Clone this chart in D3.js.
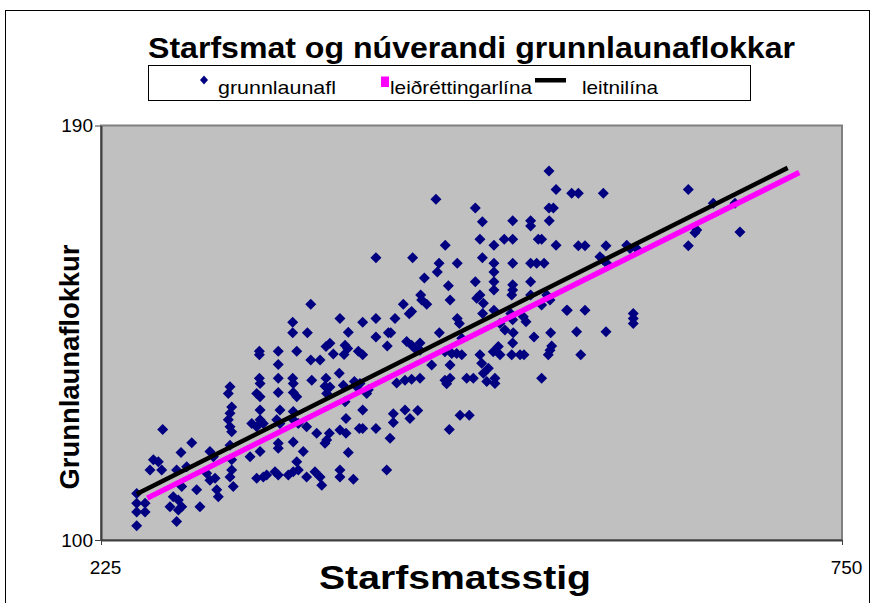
<!DOCTYPE html>
<html lang="is">
<head>
    <meta charset="UTF-8">
    <title>Starfsmat og núverandi grunnlaunaflokkar</title>
    <style>
        body { margin: 0; background: #fff; }
        svg { display: block; font-family: "Liberation Sans", Arial, sans-serif; }
    </style>
</head>
<body>
    <svg width="875" height="603"></svg>
    <script src="https://d3js.org/d3.v7.min.js"></script>
    <script>
        // starfsmatsstig (x) and grunnlaunaflokkur (y) for each employee
        var stig = [
            316.4, 315.2, 337.7, 335.3, 337.7, 350.6, 361.2, 361.2, 363.7, 374.3,
            383.7, 384.9, 317.6, 316.4, 315.2, 316.4, 317.6, 337.7, 337.7, 331.8,
            335.3, 340.0, 351.8, 349.5, 351.8, 361.2, 361.2, 364.8, 370.7, 377.8,
            384.9, 268.7, 289.3, 281.7, 302.2, 304.6, 316.4, 317.6, 317.6, 316.4,
            318.7, 330.6, 337.7, 350.6, 350.6, 361.2, 368.3, 363.7, 262.1, 265.6,
            259.7, 268.0, 278.6, 285.7, 299.9, 305.8, 302.2, 335.3, 340.0, 342.4,
            348.3, 350.6, 357.7, 361.2, 364.8, 376.6, 380.2, 381.4, 370.7, 282.2,
            292.8, 307.0, 308.1, 276.2, 273.9, 279.8, 282.2, 279.8, 295.1, 278.6,
            250.3, 250.3, 250.3, 256.2, 256.2, 250.3,
            373.6, 360.8, 360.8, 371.2, 337.2, 337.2, 350.6, 363.7, 350.6, 373.6,
            380.2, 387.2, 384.4, 389.6, 394.3, 400.2, 397.9, 399.8, 397.2, 407.3,
            410.4, 410.4, 419.8, 419.8, 428.6, 430.3, 433.3, 427.8, 439.2, 445.1,
            443.4, 441.6, 445.1, 448.7, 337.2, 350.6, 360.8, 384.4, 393.8, 404.5,
            406.2, 413.3, 414.4, 445.1, 434.5, 440.4, 398.6, 410.4, 397.9, 432.1,
            440.4, 443.9, 432.1, 387.2, 396.7, 408.5, 451.0, 459.3, 472.3, 468.7,
            472.3, 469.9, 484.1, 488.8, 494.7, 499.4, 495.9, 498.3, 504.1, 504.1,
            537.2, 449.4, 479.4, 485.9, 471.8, 386.8, 383.7, 394.3, 398.6, 408.0,
            410.4, 419.8, 429.8, 400.2, 394.3, 394.3, 403.8, 427.4, 464.7, 480.6,
            507.7, 511.2, 517.1, 531.8, 543.6, 544.3, 543.1, 541.9, 451.0, 451.0,
            468.7, 473.5, 477.0, 480.6, 493.5, 502.9, 506.5, 507.7, 516.7, 516.0,
            521.9, 524.7, 542.4, 547.4, 462.3, 490.2, 542.4, 545.5, 495.2, 516.7,
            529.4, 529.4, 542.6, 493.5, 503.4, 510.7, 516.7, 534.8, 537.2, 547.4,
            468.9, 419.8, 445.8, 495.2, 464.5, 463.3, 477.4, 503.4, 503.4, 503.4,
            503.4, 516.7, 529.4, 533.7, 538.9, 454.1, 471.1, 490.2, 516.7, 516.7,
            516.0, 529.4, 451.5, 452.2, 455.8, 472.3, 491.2, 493.5, 495.9, 477.4,
            478.9, 495.4, 503.4, 515.3, 516.7, 524.2, 526.1, 529.4, 540.8, 543.1,
            554.9, 537.2, 558.5, 563.2, 580.9, 641.1, 658.8, 674.2, 647.1, 645.8,
            677.7, 641.1, 563.2, 567.9, 582.8, 597.5, 599.8, 604.5, 578.5, 580.9,
            583.3, 555.4, 567.9, 562.0, 582.8, 602.1, 602.1, 602.1, 564.9
        ];
        var flokkur = [
            133.3, 131.8, 134.0, 131.8, 131.1, 132.0, 134.0, 132.0, 131.1, 134.7,
            133.4, 131.8, 128.9, 127.5, 126.1, 124.6, 123.5, 128.2, 126.1, 125.3,
            124.6, 125.3, 128.2, 126.1, 125.3, 127.9, 126.1, 125.3, 124.6, 123.2,
            121.7, 124.0, 121.1, 119.0, 119.2, 118.1, 120.6, 117.4, 115.2, 113.7,
            111.6, 118.1, 119.2, 121.0, 119.9, 121.3, 119.2, 117.0, 117.4, 117.0,
            115.2, 115.2, 115.2, 115.9, 114.5, 113.4, 113.0, 113.4, 113.7, 114.1,
            114.8, 114.1, 114.1, 114.8, 115.2, 114.8, 113.7, 111.9, 113.7, 111.6,
            110.9, 110.9, 109.4, 109.4, 107.2, 108.7, 107.2, 106.5, 107.2, 104.0,
            110.1, 108.0, 106.1, 108.0, 106.1, 103.1,
            151.2, 147.3, 145.0, 145.0, 141.0, 140.2, 141.0, 141.0, 138.1, 139.1,
            139.1, 142.7, 142.0, 140.4, 148.1, 145.1, 142.3, 141.6, 140.3, 141.0,
            140.2, 147.3, 148.1, 144.1, 145.0, 145.0, 148.1, 142.1, 151.2, 149.6,
            149.1, 143.1, 142.3, 141.2, 135.1, 135.1, 135.1, 135.1, 136.2, 134.4,
            133.3, 131.8, 132.6, 134.9, 134.1, 134.7, 126.4, 128.2, 130.0, 127.4,
            128.2, 126.4, 125.5, 133.2, 133.6, 134.0, 135.1, 138.0, 138.0, 134.7,
            135.1, 133.9, 135.1, 135.1, 138.4, 137.3, 136.2, 134.4, 135.1, 134.0,
            135.1, 128.1, 127.1, 127.1, 124.0, 123.2, 121.0, 123.9, 123.2, 124.2,
            124.2, 124.2, 122.1, 119.0, 115.2, 113.7, 113.2, 115.2, 145.0, 143.8,
            147.0, 145.6, 145.0, 144.1, 145.0, 142.1, 141.2, 140.2, 142.8, 141.2,
            140.9, 140.5, 140.5, 140.2, 140.2, 140.9, 142.0, 140.2, 142.8, 140.2,
            140.2, 140.2, 180.1, 176.1, 174.0, 172.1, 172.1, 172.1, 169.1, 169.3,
            169.3, 168.2, 169.3, 165.3, 164.0, 165.3, 165.3, 165.3, 165.3, 164.0,
            164.0, 161.3, 161.3, 161.3, 160.1, 158.2, 160.1, 160.1, 158.2, 156.1,
            154.3, 160.1, 160.1, 160.1, 160.1, 156.9, 155.2, 156.1, 155.4, 154.3,
            153.2, 156.1, 153.2, 152.1, 151.2, 152.1, 152.5, 153.2, 151.4, 148.1,
            147.0, 149.2, 149.9, 149.2, 147.8, 148.5, 147.4, 153.2, 153.2, 152.1,
            149.9, 151.0, 175.3, 175.3, 175.3, 176.1, 173.1, 173.1, 167.3, 166.7,
            166.9, 163.9, 163.9, 163.9, 163.9, 164.0, 163.3, 163.3, 161.5, 160.8,
            160.1, 149.9, 149.9, 145.2, 145.2, 149.2, 148.1, 147.0, 140.2
        ];

        // trend line (leitnilína) and corrected line (leiðréttingarlína) end points
        var leitniX = [250.3, 711.5];
        var leitniY = [110.0, 180.8];
        var leidrX = [257.8, 719.7];
        var leidrY = [109.1, 179.8];

        var xTicks = [225, 750];
        var yTicks = [100, 190];
        var legendNames = ["grunnlaunafl", "leiðréttingarlína", "leitnilína"];

        var svg = d3.select("svg");

        var plotLeft = 101, plotRight = 842, plotTop = 125.5, plotBottom = 540;

        var x = d3.scaleLinear()
            .domain([225, 750])
            .range([plotLeft, plotRight]);

        var y = d3.scaleLinear()
            .domain([100, 190])
            .range([plotBottom, plotTop]);

        // outer chart frame
        svg.append("rect")
            .attr("x", 5.5)
            .attr("y", 10.5)
            .attr("width", 864)
            .attr("height", 620)
            .attr("fill", "#fff")
            .attr("stroke", "#000")
            .attr("stroke-width", 1);

        // title
        svg.append("text")
            .attr("x", 148)
            .attr("y", 58)
            .attr("font-size", 30)
            .attr("font-weight", "bold")
            .attr("textLength", 647)
            .attr("lengthAdjust", "spacingAndGlyphs")
            .text("Starfsmat og núverandi grunnlaunaflokkar");

        // legend
        var legend = svg.append("g").attr("class", "legend");
        legend.append("rect")
            .attr("x", 148.5)
            .attr("y", 65.5)
            .attr("width", 602)
            .attr("height", 35)
            .attr("fill", "#fff")
            .attr("stroke", "#000");

        legend.append("path")
            .attr("d", "M0,-4.5L4,0L0,4.5L-4,0Z")
            .attr("transform", "translate(204,80)")
            .attr("fill", "#000080");
        legend.append("rect")
            .attr("x", 381)
            .attr("y", 76.5)
            .attr("width", 8)
            .attr("height", 10.5)
            .attr("fill", "#ff00ff");
        legend.append("rect")
            .attr("x", 535)
            .attr("y", 78)
            .attr("width", 31)
            .attr("height", 4.5)
            .attr("fill", "#000");

        var legendPos = [[218, 118], [390, 142], [582, 76]];
        legend.selectAll("text.item")
            .data(legendNames)
            .enter().append("text")
            .attr("class", "item")
            .attr("x", function(d, i) { return legendPos[i][0]; })
            .attr("y", 94)
            .attr("font-size", 19)
            .attr("textLength", function(d, i) { return legendPos[i][1]; })
            .attr("lengthAdjust", "spacingAndGlyphs")
            .text(function(d) { return d; });

        // plot area
        svg.append("rect")
            .attr("x", plotLeft)
            .attr("y", plotTop)
            .attr("width", plotRight - plotLeft)
            .attr("height", plotBottom - plotTop)
            .attr("fill", "#c0c0c0")
            .attr("stroke", "#808080")
            .attr("stroke-width", 2);

        // axes
        var xAxis = svg.append("g")
            .attr("transform", "translate(0," + plotBottom + ")")
            .call(d3.axisBottom(x).tickValues(xTicks).tickSize(5).tickSizeOuter(0));
        xAxis.select(".domain").attr("stroke", "#404040").attr("stroke-width", 2);
        xAxis.selectAll(".tick line").attr("stroke", "#404040");
        xAxis.selectAll(".tick text")
            .attr("font-size", 19)
            .attr("font-family", "Liberation Sans, Arial, sans-serif")
            .attr("fill", "#000")
            .attr("dx", 4)
            .attr("y", 21)
            .attr("dy", "0.71em");

        var yAxis = svg.append("g")
            .attr("transform", "translate(" + plotLeft + ",0)")
            .call(d3.axisLeft(y).tickValues(yTicks).tickSize(6).tickPadding(2).tickSizeOuter(0));
        yAxis.select(".domain").attr("stroke", "#404040").attr("stroke-width", 2);
        yAxis.selectAll(".tick line").attr("stroke", "#404040");
        yAxis.selectAll(".tick text")
            .attr("font-size", 19)
            .attr("font-family", "Liberation Sans, Arial, sans-serif")
            .attr("fill", "#000");

        // axis titles
        svg.append("text")
            .attr("x", 455)
            .attr("y", 589)
            .attr("text-anchor", "middle")
            .attr("font-size", 33)
            .attr("font-weight", "bold")
            .attr("textLength", 272)
            .attr("lengthAdjust", "spacingAndGlyphs")
            .text("Starfsmatsstig");

        svg.append("text")
            .attr("transform", "translate(79,367) rotate(-90)")
            .attr("text-anchor", "middle")
            .attr("font-size", 27)
            .attr("font-weight", "bold")
            .attr("textLength", 245)
            .attr("lengthAdjust", "spacingAndGlyphs")
            .text("Grunnlaunaflokkur");

        // scatter points
        svg.append("g")
            .selectAll("path")
            .data(stig)
            .enter().append("path")
            .attr("d", "M0,-5.5L5.5,0L0,5.5L-5.5,0Z")
            .attr("transform", function(d, i) {
                return "translate(" + x(d) + "," + y(flokkur[i]) + ")";
            })
            .attr("fill", "#000080");

        // lines
        svg.append("line")
            .attr("x1", x(leidrX[0])).attr("y1", y(leidrY[0]))
            .attr("x2", x(leidrX[1])).attr("y2", y(leidrY[1]))
            .attr("stroke", "#ff00ff")
            .attr("stroke-width", 5.5);

        svg.append("line")
            .attr("x1", x(leitniX[0])).attr("y1", y(leitniY[0]))
            .attr("x2", x(leitniX[1])).attr("y2", y(leitniY[1]))
            .attr("stroke", "#000")
            .attr("stroke-width", 4.5);
    </script>
</body>
</html>
